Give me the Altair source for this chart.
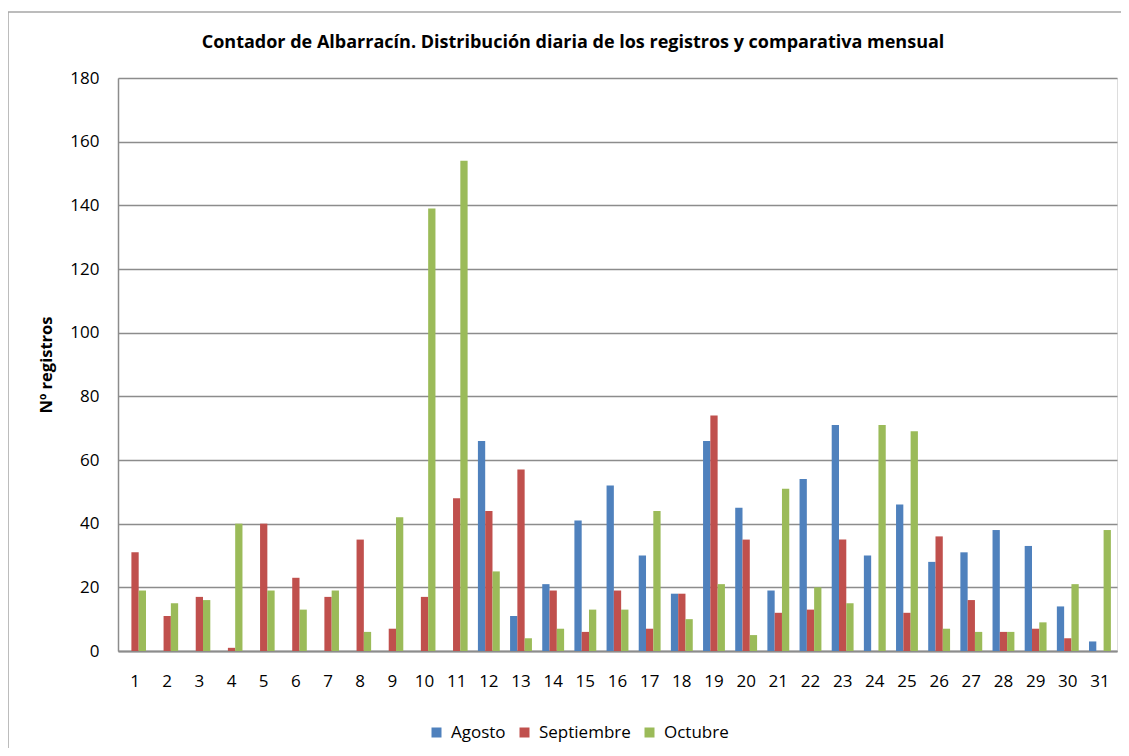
import altair as alt
import pandas as pd

days = list(range(1, 32))
series = ["Agosto", "Septiembre", "Octubre"]
colors = ["#4F81BD", "#C0504D", "#9BBB59"]

agosto = [None, None, None, None, None, None, None, None, None, None, None,
          66, 11, 21, 41, 52, 30, 18, 66, 45, 19, 54, 71, 30, 46, 28, 31, 38, 33, 14, 3]
septiembre = [31, 11, 17, 1, 40, 23, 17, 35, 7, 17, 48, 44, 57, 19, 6, 19, 7, 18, 74, 35,
              12, 13, 35, None, 12, 36, 16, 6, 7, 4, None]
octubre = [19, 15, 16, 40, 19, 13, 19, 6, 42, 139, 154, 25, 4, 7, 13, 13, 44, 10, 21, 5,
           51, 20, 15, 71, 69, 7, 6, 6, 9, 21, 38]
y_ticks = [0, 20, 40, 60, 80, 100, 120, 140, 160, 180]

title_text = "Contador de Albarracín. Distribución diaria de los registros y comparativa mensual"

rows = []
for i, d in enumerate(days):
    for name, arr in zip(series, (agosto, septiembre, octubre)):
        if arr[i] is not None:
            rows.append({"dia": d, "serie": name, "valor": arr[i]})
df = pd.DataFrame(rows)

FONT = "Open Sans"
TITLE_FONT = "Liberation Sans Narrow, Open Sans"
GRID = "#8c8c8c"

bars = alt.Chart(df).mark_bar().encode(
    x=alt.X("dia:O", sort=days,
            scale=alt.Scale(paddingInner=0.32, paddingOuter=0.19),
            axis=alt.Axis(title=None, labelAngle=0, ticks=False, labelPadding=22,
                          labelFont=FONT, labelFontSize=17, labelColor="#000000",
                          domainColor=GRID, domainWidth=2, grid=False)),
    xOffset=alt.XOffset("serie:N", sort=series,
                        scale=alt.Scale(domain=series, paddingInner=0, paddingOuter=0)),
    y=alt.Y("valor:Q",
            scale=alt.Scale(domain=[0, 180], nice=False),
            axis=alt.Axis(title="Nº registros", values=y_ticks, ticks=False,
                          labelPadding=19, labelFont=FONT, labelFontSize=17,
                          labelColor="#000000", titleFont=FONT, titleFontSize=16.5,
                          titleFontWeight="bold", titleColor="#000000", titlePadding=15,
                          domainColor=GRID, domainWidth=1.5,
                          gridColor=GRID, gridWidth=1.5)),
    color=alt.Color("serie:N", sort=series,
                    scale=alt.Scale(domain=series, range=colors),
                    legend=alt.Legend(title=None, orient="none", legendX=310, legendY=646,
                                      direction="horizontal", symbolType="square",
                                      symbolSize=100, symbolStrokeWidth=0,
                                      labelFont=FONT, labelFontSize=17,
                                      labelColor="#000000", labelOffset=6,
                                      columnPadding=10, gridAlign="none")),
)

frame_data = alt.Data(values=[{"k": 1}])
left_line = alt.Chart(frame_data).mark_rule(color="#a6a6a6", strokeWidth=1.5).encode(
    x=alt.value(-110), y=alt.value(-66), y2=alt.value(720))
top_line = alt.Chart(frame_data).mark_rule(color="#a6a6a6", strokeWidth=1.5).encode(
    x=alt.value(-110), x2=alt.value(1100), y=alt.value(-66))
title_mark = alt.Chart(frame_data).mark_text(
    text=title_text, font=TITLE_FONT, fontSize=18, fontWeight="bold",
    color="#000000", align="center", baseline="alphabetic").encode(
    x=alt.value(455), y=alt.value(-30))

chart = alt.layer(bars, left_line, top_line, title_mark).properties(
    width=999, height=573,
    padding={"left": 110, "top": 70, "right": 4, "bottom": 97},
    autosize=alt.AutoSizeParams(type="none"),
).configure_view(stroke=None).configure(background="white")

chart.save("out.html", embed_options={"renderer": "svg", "actions": False})
